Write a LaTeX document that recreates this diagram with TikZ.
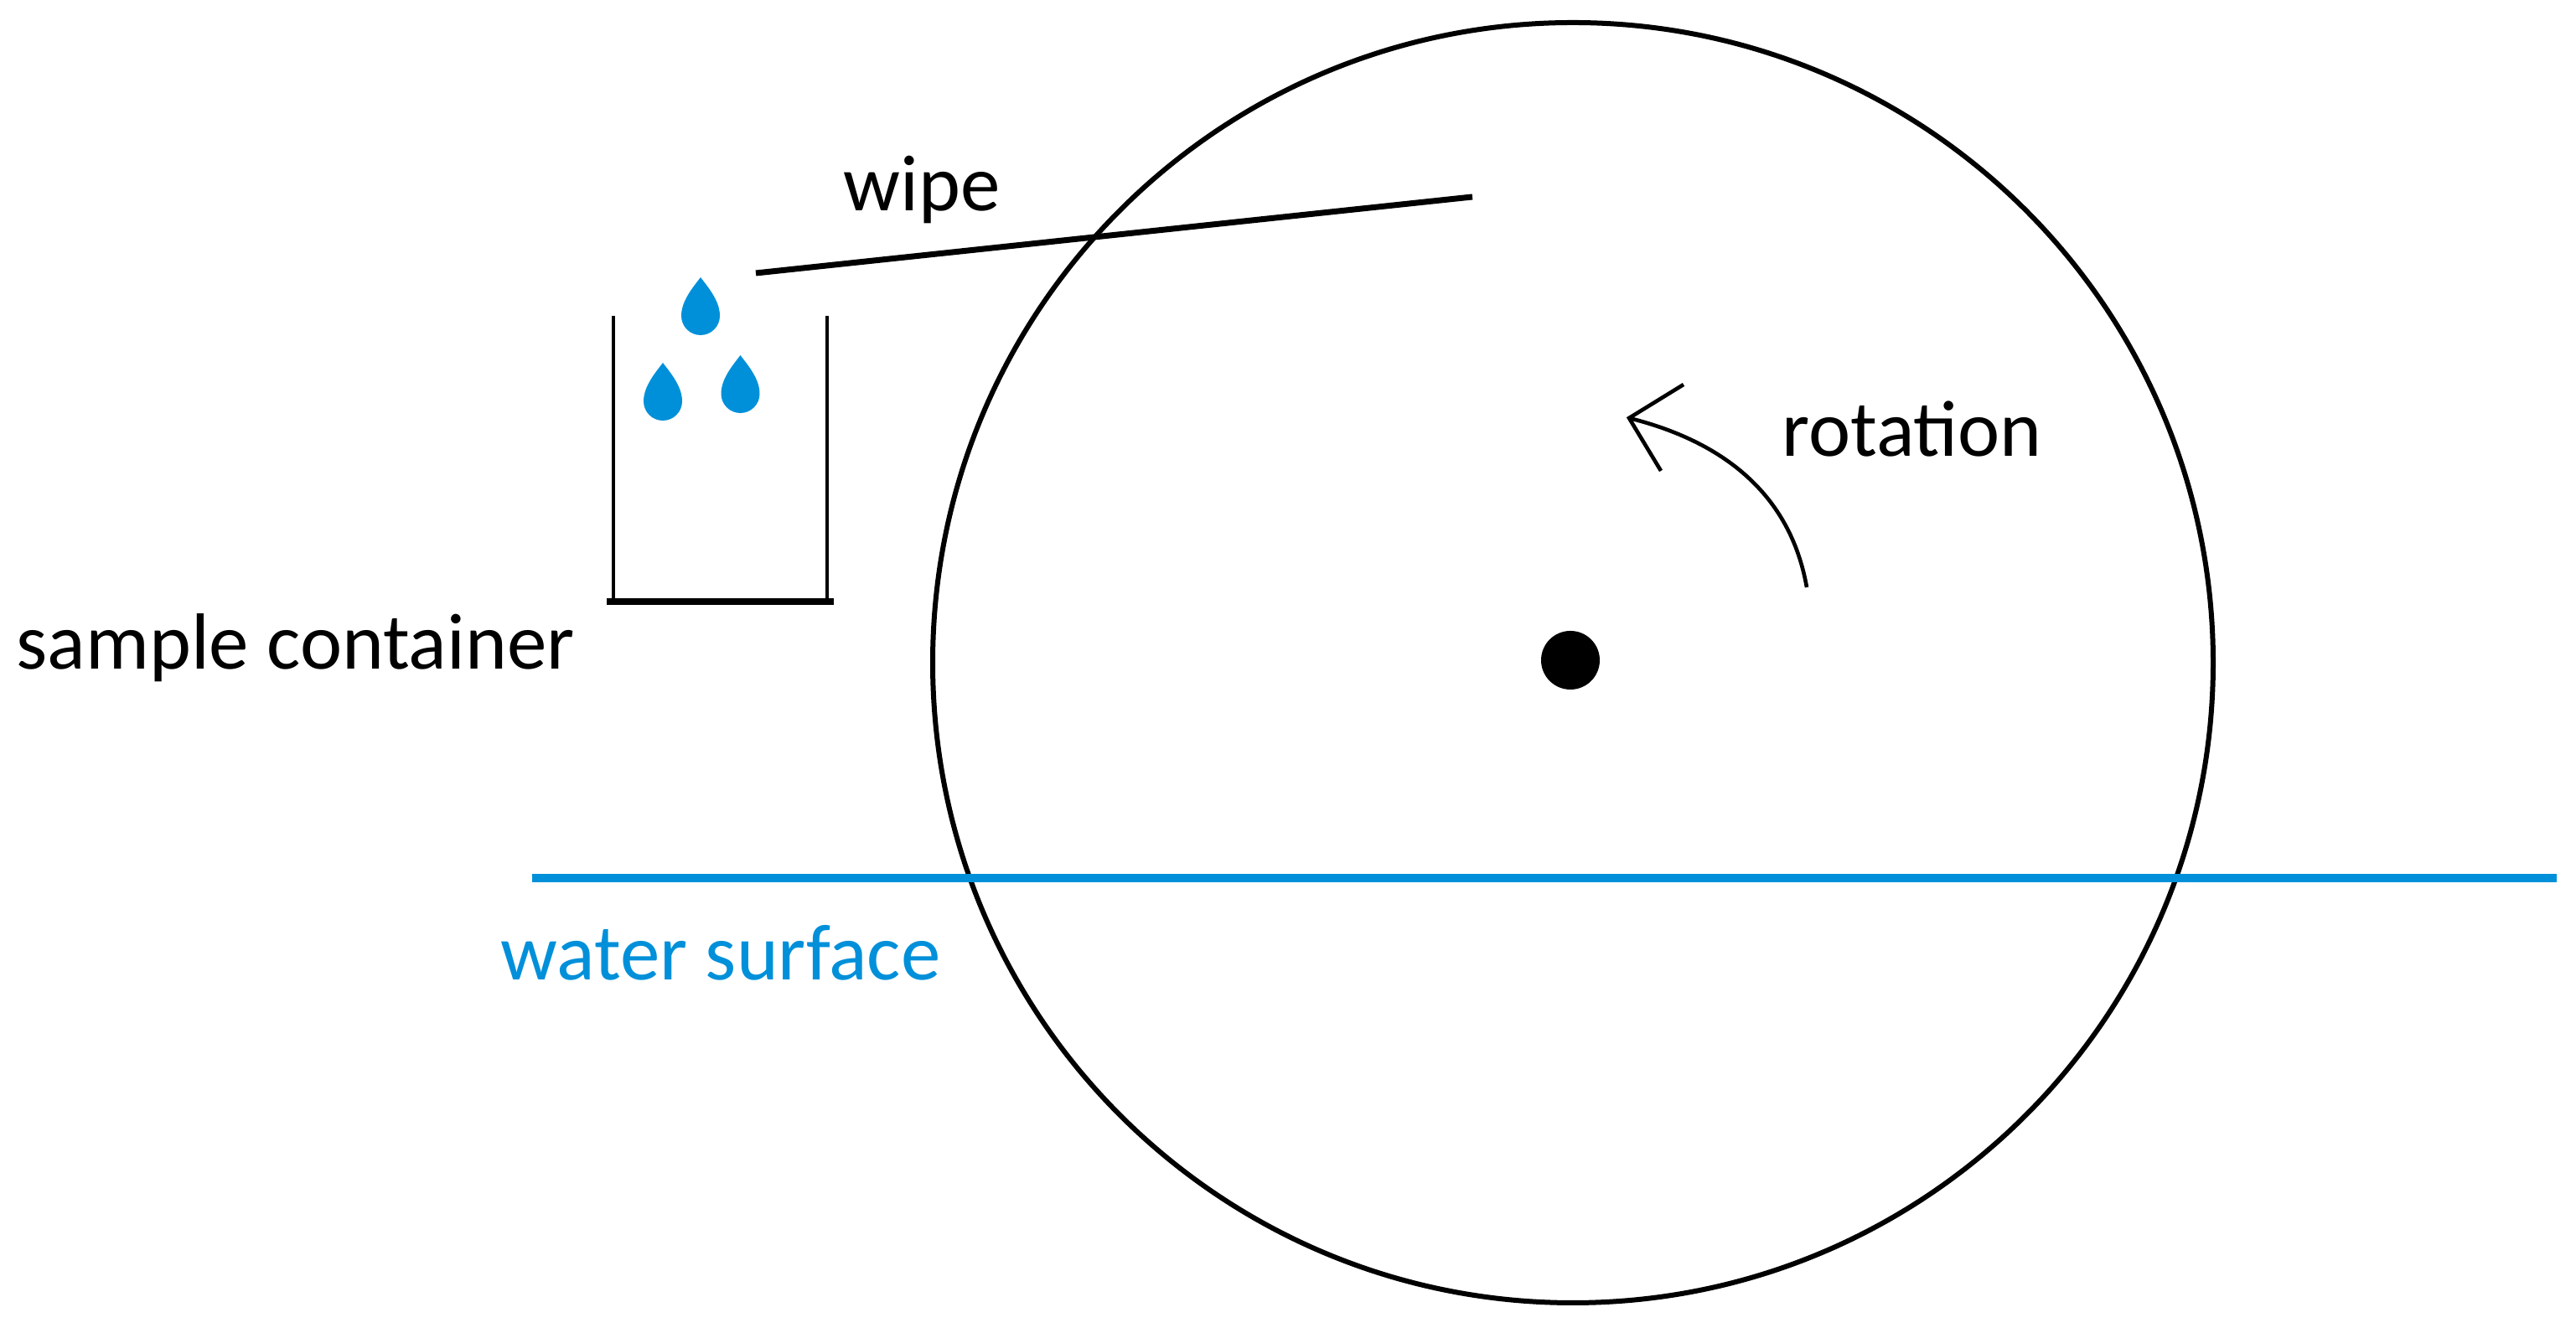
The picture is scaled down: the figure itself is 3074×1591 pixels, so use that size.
\documentclass[tikz,border=0pt]{standalone}
\usepackage{fontspec}
\setmainfont{Carlito}
\definecolor{wblue}{RGB}{0,144,218}
\begin{document}
\begin{tikzpicture}[x=0.25pt,y=0.25pt,
  lbl/.style={anchor=base west,inner sep=0pt,font=\fontsize{23.75pt}{28pt}\selectfont},
  drop/.style={fill=wblue,draw=none}]
\useasboundingbox[fill=white] (0,0) rectangle (3074,1591);
% wheel
\node[draw,circle,line width=1.5pt,minimum size=1528*0.25pt,inner sep=0pt] (wheel) at (1877,800) {};
\fill (1874,803) circle[radius=35];
\coordinate (axle) at (1874,803);
% water surface
\coordinate (wl) at (635,543);
\coordinate (wr) at (3051,543);
\draw[wblue,line width=2.4pt] (wl) -- (wr);
\node[lbl,text=wblue] (wtxt) at (597,421) {water surface};
% wipe
\coordinate (wipeA) at (902,1265);
\coordinate (wipeB) at (1757,1356);
\draw[line width=1.75pt] (wipeA) -- (wipeB);
\node[lbl] (wipetxt) at (1006,1339) {wipe};
% container
\coordinate (ctl) at (732,1214);
\coordinate (cbl) at (732,873);
\coordinate (cbr) at (987,873);
\coordinate (ctr) at (987,1214);
\draw[line width=1.2pt] (ctl) -- (cbl);
\draw[line width=1.2pt] (ctr) -- (cbr);
\draw[line width=1.9pt] ([xshift=-2]cbl) -- ([xshift=2]cbr);
\node[lbl] (ctxt) at (19,792) {sample container};
% drops
\foreach \cx/\cy in {836/1214, 791/1112, 883.5/1121}{
  \fill[drop,shift={(\cx,\cy)}] (0,46) .. controls (9,34) and (23,18) .. (23,0)
     arc[start angle=0,end angle=-180,radius=23]
     .. controls (-23,18) and (-9,34) .. (0,46) -- cycle;
}
% rotation arrow
\coordinate (rs) at (2156,890);
\coordinate (rt) at (1944,1092);
\coordinate (ra1) at (2009,1132);
\coordinate (ra2) at (1982,1029);
\draw[line width=1.15pt] (rs) to[out=100,in=-14] (rt);
\draw[line width=1.15pt,line join=miter] (ra1) -- (rt) -- (ra2);
\node[lbl] (rtxt) at (2126,1046) {rotation};
\end{tikzpicture}
\end{document}
